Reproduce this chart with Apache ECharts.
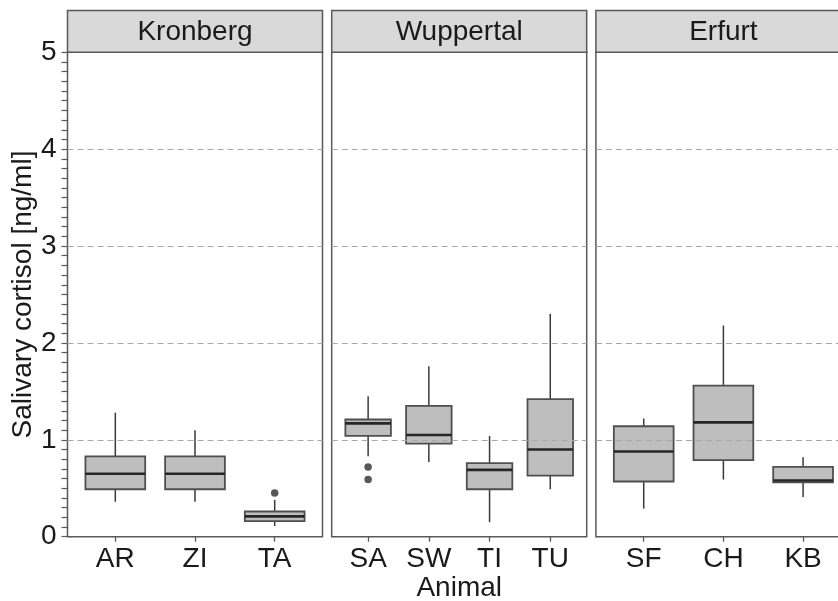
<!DOCTYPE html>
<html>
<head>
<meta charset="utf-8">
<title>Salivary cortisol by animal</title>
<script src="https://cdn.jsdelivr.net/npm/echarts@6/dist/echarts.min.js"></script>
<style>
  html, body { margin: 0; padding: 0; background: #ffffff; }
  #chart { width: 838px; height: 601px; }
</style>
</head>
<body>
<div id="chart"></div>
<script>
// Facet labels and y-axis ticks
const facetNames = ['Kronberg', 'Wuppertal', 'Erfurt'];
const yTickValues = [0, 1, 2, 3, 4, 5];
const gridLineValues = [1, 2, 3, 4];

// Box statistics per animal: [lower whisker, Q1, median, Q3, upper whisker]
const kronbergAnimals = ['AR', 'ZI', 'TA'];
const kronbergBoxes = [
  [0.36, 0.49, 0.65, 0.83, 1.28],
  [0.36, 0.49, 0.65, 0.83, 1.10],
  [0.11, 0.16, 0.21, 0.26, 0.38]
];
const kronbergOutliers = [['TA', 0.45]];

const wuppertalAnimals = ['SA', 'SW', 'TI', 'TU'];
const wuppertalBoxes = [
  [0.83, 1.04, 1.17, 1.21, 1.45],
  [0.77, 0.96, 1.05, 1.35, 1.76],
  [0.15, 0.49, 0.69, 0.76, 1.04],
  [0.49, 0.63, 0.90, 1.42, 2.30]
];
const wuppertalOutliers = [['SA', 0.72], ['SA', 0.59]];

const erfurtAnimals = ['SF', 'CH', 'KB'];
const erfurtBoxes = [
  [0.29, 0.57, 0.88, 1.14, 1.22],
  [0.59, 0.79, 1.18, 1.56, 2.18],
  [0.41, 0.56, 0.58, 0.72, 0.82]
];
const erfurtOutliers = [];

// Panel layout (pixels); the last panel runs past the right edge of the canvas
const PANEL_LEFTS = [67.5, 331.7, 595.9];
const PANEL_W = 255;
const PANEL_TOP = 52.3;
const PANEL_H = 484.4;
const STRIP_TOP = 10.5;
const FONT = '"Liberation Sans", Arial, Helvetica, sans-serif';
const TEXT_COLOR = '#1a1a1a';
const BORDER_COLOR = '#595959';

const facets = [
  { animals: kronbergAnimals, boxes: kronbergBoxes, outliers: kronbergOutliers },
  { animals: wuppertalAnimals, boxes: wuppertalBoxes, outliers: wuppertalOutliers },
  { animals: erfurtAnimals, boxes: erfurtBoxes, outliers: erfurtOutliers }
];

function renderBox(params, api) {
  const x = api.value(0);
  const lo = api.coord([x, api.value(1)]);
  const q1 = api.coord([x, api.value(2)]);
  const med = api.coord([x, api.value(3)]);
  const q3 = api.coord([x, api.value(4)]);
  const hi = api.coord([x, api.value(5)]);
  const w = api.size([0.75, 0])[0];
  const cx = lo[0];
  const whisker = { stroke: '#3a3a3a', lineWidth: 1.5 };
  return {
    type: 'group',
    children: [
      { type: 'line', shape: { x1: cx, y1: hi[1], x2: cx, y2: q3[1] }, style: whisker },
      { type: 'line', shape: { x1: cx, y1: q1[1], x2: cx, y2: lo[1] }, style: whisker },
      {
        type: 'rect',
        shape: { x: cx - w / 2, y: q3[1], width: w, height: q1[1] - q3[1] },
        style: { fill: '#bebebe', stroke: '#4f4f4f', lineWidth: 1.8 }
      },
      {
        type: 'line',
        shape: { x1: cx - w / 2, y1: med[1], x2: cx + w / 2, y2: med[1] },
        style: { stroke: '#262626', lineWidth: 2.6 }
      }
    ]
  };
}

const grids = [], xAxes = [], yAxes = [], series = [], graphics = [];

facets.forEach((f, gi) => {
  const n = f.animals.length;
  const positions = f.animals.map((_, i) => i + 1);

  grids.push({
    left: PANEL_LEFTS[gi], top: PANEL_TOP, width: PANEL_W, height: PANEL_H,
    show: true, backgroundColor: '#ffffff',
    borderColor: BORDER_COLOR, borderWidth: 1.5,
    containLabel: false,
    outerBoundsMode: 'none'
  });

  xAxes.push({
    gridIndex: gi, type: 'value', min: 0.4, max: n + 0.6,
    axisLine: { show: false },
    splitLine: { show: false },
    axisTick: {
      show: true, customValues: positions, length: 5, inside: false,
      lineStyle: { color: BORDER_COLOR, width: 1.3 }
    },
    axisLabel: {
      show: true, customValues: positions, margin: 9,
      fontSize: 28, fontFamily: FONT, color: TEXT_COLOR,
      formatter: v => f.animals[Math.round(v) - 1] || ''
    }
  });

  if (gi === 0) {
    yAxes.push({
      gridIndex: gi, type: 'value', min: yTickValues[0], max: yTickValues[yTickValues.length - 1], interval: 1,
      axisLine: { show: false },
      splitLine: { show: false },
      axisTick: { show: true, length: 6, lineStyle: { color: BORDER_COLOR, width: 1.2 } },
      minorTick: { show: true, splitNumber: 10, length: 6, lineStyle: { color: BORDER_COLOR, width: 1.2 } },
      minorSplitLine: { show: false },
      axisLabel: { margin: 11, fontSize: 28, fontFamily: FONT, color: TEXT_COLOR }
    });
  } else {
    yAxes.push({
      gridIndex: gi, type: 'value', min: yTickValues[0], max: yTickValues[yTickValues.length - 1], interval: 1,
      axisLine: { show: false }, axisTick: { show: false }, axisLabel: { show: false },
      splitLine: { show: false }
    });
  }

  series.push({
    type: 'custom', xAxisIndex: gi, yAxisIndex: gi,
    renderItem: renderBox,
    encode: { x: 0, y: [1, 2, 3, 4, 5] },
    data: f.boxes.map((b, i) => [i + 1].concat(b)),
    z: 2, silent: true
  });

  series.push({
    type: 'scatter', xAxisIndex: gi, yAxisIndex: gi,
    symbol: 'circle', symbolSize: 7.5,
    itemStyle: { color: '#2e2e2e' },
    data: f.outliers.map(o => [f.animals.indexOf(o[0]) + 1, o[1]]),
    z: 3, silent: true
  });

  // dashed reference lines drawn above the boxes
  series.push({
    type: 'line', xAxisIndex: gi, yAxisIndex: gi, data: [],
    z: 5, silent: true,
    markLine: {
      silent: true, symbol: ['none', 'none'], label: { show: false },
      lineStyle: { color: '#a8a8a8', type: [6, 4], width: 1.2 },
      data: gridLineValues.map(v => ({ yAxis: v }))
    }
  });

  // facet strip
  graphics.push({
    type: 'rect', z: 10,
    shape: { x: PANEL_LEFTS[gi], y: STRIP_TOP, width: PANEL_W, height: PANEL_TOP - STRIP_TOP },
    style: { fill: '#d9d9d9', stroke: BORDER_COLOR, lineWidth: 1.5 }
  });
  graphics.push({
    type: 'text', z: 11,
    x: PANEL_LEFTS[gi] + PANEL_W / 2, y: (STRIP_TOP + PANEL_TOP) / 2 + 0.5,
    style: {
      text: facetNames[gi], fill: TEXT_COLOR, font: '28px ' + FONT,
      align: 'center', verticalAlign: 'middle'
    }
  });
});

// axis titles
const panelsMid = (PANEL_LEFTS[0] + PANEL_LEFTS[2] + PANEL_W) / 2;
graphics.push({
  type: 'text', z: 11, x: panelsMid, y: 588.5,
  style: { text: 'Animal', fill: TEXT_COLOR, font: '28px ' + FONT, align: 'center', verticalAlign: 'middle' }
});
graphics.push({
  type: 'text', z: 11, x: 23.5, y: PANEL_TOP + PANEL_H / 2, rotation: Math.PI / 2,
  style: { text: 'Salivary cortisol [ng/ml]', fill: TEXT_COLOR, font: '28px ' + FONT, align: 'center', verticalAlign: 'middle' }
});

const chart = echarts.init(document.getElementById('chart'), null, { renderer: 'canvas' });
chart.setOption({
  animation: false,
  backgroundColor: '#ffffff',
  grid: grids,
  xAxis: xAxes,
  yAxis: yAxes,
  series: series,
  graphic: graphics
});
</script>
</body>
</html>
